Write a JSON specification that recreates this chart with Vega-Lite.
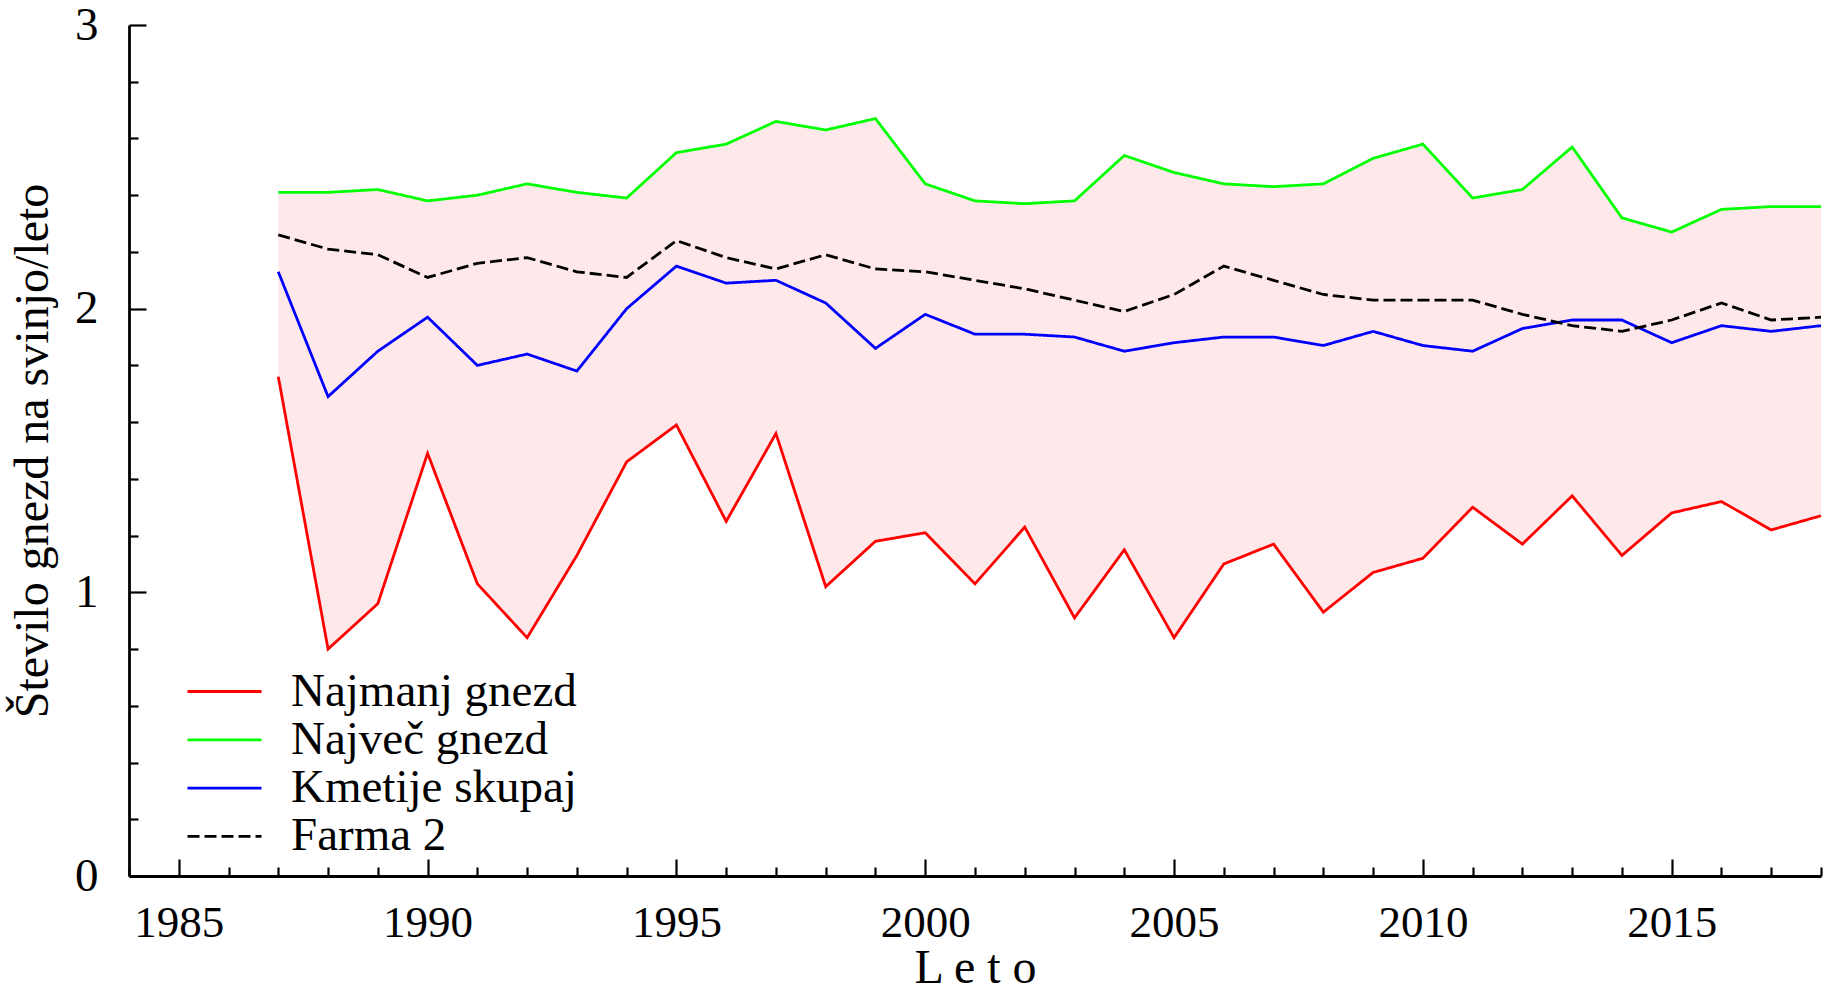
{
  "$schema": "https://vega.github.io/schema/vega-lite/v6.json",
  "width": 1692,
  "height": 851,
  "autosize": "none",
  "padding": {"left": 129, "top": 25, "right": 12, "bottom": 117},
  "background": "white",
  "config": {
    "font": "Liberation Serif",
    "view": {"stroke": null},
    "legend": {
      "orient": "none",
      "legendX": 57,
      "legendY": 646,
      "padding": 0,
      "symbolType": "stroke",
      "symbolSize": 5476,
      "labelFont": "Liberation Serif",
      "labelFontSize": 47,
      "labelColor": "black",
      "labelOffset": 28,
      "labelLimit": 800,
      "clipHeight": 41,
      "rowPadding": 0.3
    }
  },
  "data": {
    "values": [
      {"leto": 1987, "Najmanj gnezd": 1.76, "Največ gnezd": 2.41, "Kmetije skupaj": 2.13, "Farma 2": 2.26},
      {"leto": 1988, "Najmanj gnezd": 0.80, "Največ gnezd": 2.41, "Kmetije skupaj": 1.69, "Farma 2": 2.21},
      {"leto": 1989, "Najmanj gnezd": 0.96, "Največ gnezd": 2.42, "Kmetije skupaj": 1.85, "Farma 2": 2.19},
      {"leto": 1990, "Najmanj gnezd": 1.49, "Največ gnezd": 2.38, "Kmetije skupaj": 1.97, "Farma 2": 2.11},
      {"leto": 1991, "Najmanj gnezd": 1.03, "Največ gnezd": 2.40, "Kmetije skupaj": 1.80, "Farma 2": 2.16},
      {"leto": 1992, "Najmanj gnezd": 0.84, "Največ gnezd": 2.44, "Kmetije skupaj": 1.84, "Farma 2": 2.18},
      {"leto": 1993, "Najmanj gnezd": 1.13, "Največ gnezd": 2.41, "Kmetije skupaj": 1.78, "Farma 2": 2.13},
      {"leto": 1994, "Najmanj gnezd": 1.46, "Največ gnezd": 2.39, "Kmetije skupaj": 2.00, "Farma 2": 2.11},
      {"leto": 1995, "Najmanj gnezd": 1.59, "Največ gnezd": 2.55, "Kmetije skupaj": 2.15, "Farma 2": 2.24},
      {"leto": 1996, "Najmanj gnezd": 1.25, "Največ gnezd": 2.58, "Kmetije skupaj": 2.09, "Farma 2": 2.18},
      {"leto": 1997, "Najmanj gnezd": 1.56, "Največ gnezd": 2.66, "Kmetije skupaj": 2.10, "Farma 2": 2.14},
      {"leto": 1998, "Najmanj gnezd": 1.02, "Največ gnezd": 2.63, "Kmetije skupaj": 2.02, "Farma 2": 2.19},
      {"leto": 1999, "Najmanj gnezd": 1.18, "Največ gnezd": 2.67, "Kmetije skupaj": 1.86, "Farma 2": 2.14},
      {"leto": 2000, "Najmanj gnezd": 1.21, "Največ gnezd": 2.44, "Kmetije skupaj": 1.98, "Farma 2": 2.13},
      {"leto": 2001, "Najmanj gnezd": 1.03, "Največ gnezd": 2.38, "Kmetije skupaj": 1.91, "Farma 2": 2.10},
      {"leto": 2002, "Najmanj gnezd": 1.23, "Največ gnezd": 2.37, "Kmetije skupaj": 1.91, "Farma 2": 2.07},
      {"leto": 2003, "Najmanj gnezd": 0.91, "Največ gnezd": 2.38, "Kmetije skupaj": 1.90, "Farma 2": 2.03},
      {"leto": 2004, "Najmanj gnezd": 1.15, "Največ gnezd": 2.54, "Kmetije skupaj": 1.85, "Farma 2": 1.99},
      {"leto": 2005, "Najmanj gnezd": 0.84, "Največ gnezd": 2.48, "Kmetije skupaj": 1.88, "Farma 2": 2.05},
      {"leto": 2006, "Najmanj gnezd": 1.10, "Največ gnezd": 2.44, "Kmetije skupaj": 1.90, "Farma 2": 2.15},
      {"leto": 2007, "Najmanj gnezd": 1.17, "Največ gnezd": 2.43, "Kmetije skupaj": 1.90, "Farma 2": 2.10},
      {"leto": 2008, "Najmanj gnezd": 0.93, "Največ gnezd": 2.44, "Kmetije skupaj": 1.87, "Farma 2": 2.05},
      {"leto": 2009, "Najmanj gnezd": 1.07, "Največ gnezd": 2.53, "Kmetije skupaj": 1.92, "Farma 2": 2.03},
      {"leto": 2010, "Najmanj gnezd": 1.12, "Največ gnezd": 2.58, "Kmetije skupaj": 1.87, "Farma 2": 2.03},
      {"leto": 2011, "Najmanj gnezd": 1.30, "Največ gnezd": 2.39, "Kmetije skupaj": 1.85, "Farma 2": 2.03},
      {"leto": 2012, "Najmanj gnezd": 1.17, "Največ gnezd": 2.42, "Kmetije skupaj": 1.93, "Farma 2": 1.98},
      {"leto": 2013, "Najmanj gnezd": 1.34, "Največ gnezd": 2.57, "Kmetije skupaj": 1.96, "Farma 2": 1.94},
      {"leto": 2014, "Najmanj gnezd": 1.13, "Največ gnezd": 2.32, "Kmetije skupaj": 1.96, "Farma 2": 1.92},
      {"leto": 2015, "Najmanj gnezd": 1.28, "Največ gnezd": 2.27, "Kmetije skupaj": 1.88, "Farma 2": 1.96},
      {"leto": 2016, "Najmanj gnezd": 1.32, "Največ gnezd": 2.35, "Kmetije skupaj": 1.94, "Farma 2": 2.02},
      {"leto": 2017, "Najmanj gnezd": 1.22, "Največ gnezd": 2.36, "Kmetije skupaj": 1.92, "Farma 2": 1.96},
      {"leto": 2018, "Najmanj gnezd": 1.27, "Največ gnezd": 2.36, "Kmetije skupaj": 1.94, "Farma 2": 1.97}
    ]
  },
  "layer": [
    {
      "mark": {"type": "area", "color": "#ffe8ea", "opacity": 1},
      "encoding": {
        "x": {
          "field": "leto", "type": "quantitative",
          "scale": {"domain": [1984, 2018], "nice": false, "zero": false},
          "axis": {
            "title": "L e t o",
            "titleFont": "Liberation Serif", "titleFontSize": 48, "titleFontWeight": "normal", "titleColor": "black", "titlePadding": -9,
            "values": [1984,1985,1986,1987,1988,1989,1990,1991,1992,1993,1994,1995,1996,1997,1998,1999,2000,2001,2002,2003,2004,2005,2006,2007,2008,2009,2010,2011,2012,2013,2014,2015,2016,2017,2018],
            "labelExpr": "datum.value % 5 === 0 ? '' + datum.value : ''",
            "labelFont": "Liberation Serif", "labelFontSize": 45, "labelColor": "black",
            "labelPadding": 41, "labelOverlap": false, "labelFlush": false,
            "grid": false,
            "domainColor": "black", "domainWidth": 2.8,
            "tickColor": "black", "tickWidth": 2.2,
            "tickSize": {"condition": {"test": "datum.value % 5 === 0", "value": -17}, "value": -9}
          }
        },
        "y": {
          "field": "Najmanj gnezd", "type": "quantitative",
          "scale": {"domain": [0, 3], "nice": false, "zero": true},
          "axis": {
            "title": "Število gnezd na svinjo/leto",
            "titleFont": "Liberation Serif", "titleFontSize": 48, "titleFontWeight": "normal", "titleColor": "black", "titlePadding": 17,
            "values": [0,0.2,0.4,0.6,0.8,1,1.2,1.4,1.6,1.8,2,2.2,2.4,2.6,2.8,3],
            "labelExpr": "datum.value % 1 === 0 ? '' + datum.value : ''",
            "labelFont": "Liberation Serif", "labelFontSize": 47, "labelColor": "black",
            "labelPadding": 48, "labelOverlap": false, "labelFlush": false,
            "grid": false,
            "domainColor": "black", "domainWidth": 2.8,
            "tickColor": "black", "tickWidth": 2.2,
            "tickSize": {"condition": {"test": "datum.value % 1 === 0", "value": -17}, "value": -9}
          }
        },
        "y2": {"field": "Največ gnezd"}
      }
    },
    {
      "transform": [{"fold": ["Najmanj gnezd", "Največ gnezd", "Kmetije skupaj", "Farma 2"], "as": ["serija", "vrednost"]}],
      "mark": {"type": "line"},
      "encoding": {
        "x": {"field": "leto", "type": "quantitative"},
        "y": {"field": "vrednost", "type": "quantitative"},
        "color": {
          "field": "serija", "type": "nominal", "title": null,
          "scale": {"domain": ["Najmanj gnezd", "Največ gnezd", "Kmetije skupaj", "Farma 2"], "range": ["#ff0000", "#00ff00", "#0000ff", "#000000"]}
        },
        "strokeDash": {
          "field": "serija", "type": "nominal", "title": null,
          "scale": {"domain": ["Najmanj gnezd", "Največ gnezd", "Kmetije skupaj", "Farma 2"], "range": [[1, 0], [1, 0], [1, 0], [12, 5]]}
        },
        "strokeWidth": {
          "field": "serija", "type": "nominal", "title": null,
          "scale": {"domain": ["Najmanj gnezd", "Največ gnezd", "Kmetije skupaj", "Farma 2"], "range": [2.8, 2.8, 2.8, 3.4]}
        }
      }
    }
  ]
}
